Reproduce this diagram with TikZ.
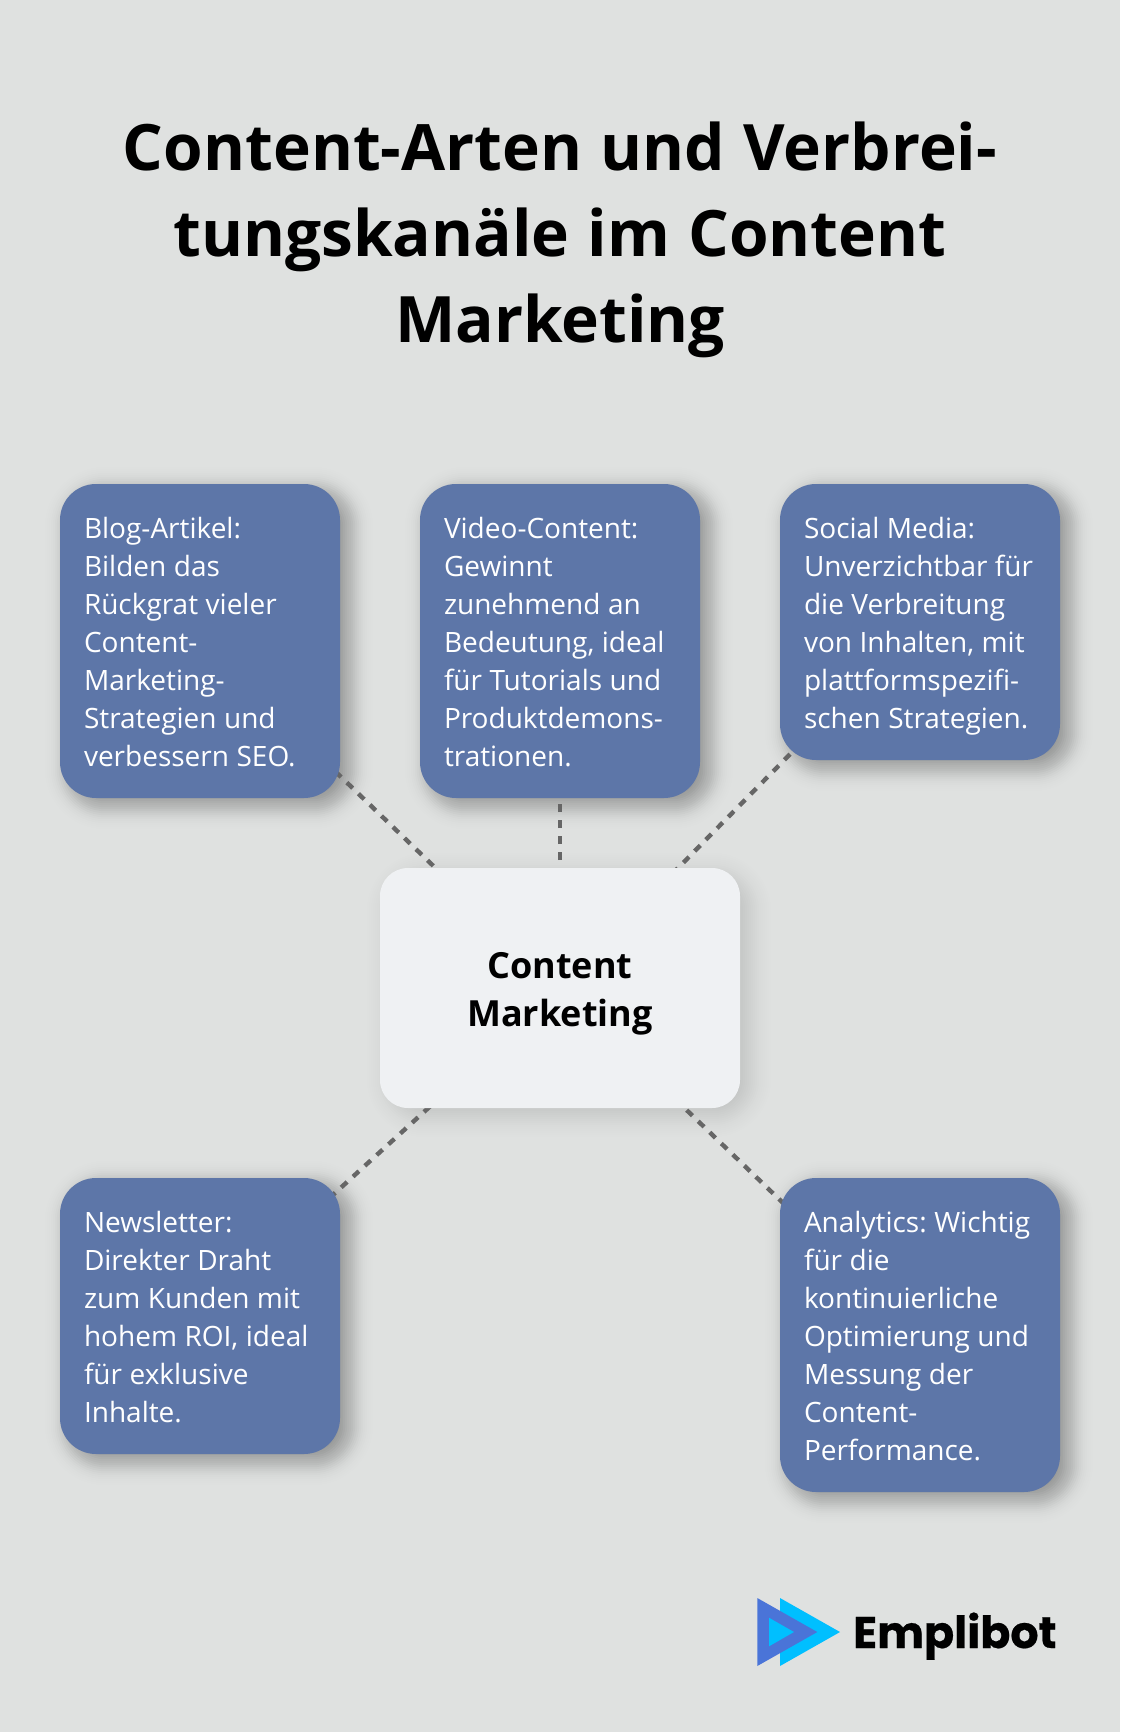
\documentclass[tikz,border=0pt]{standalone}
\usepackage{fontspec}
\setmainfont{Open Sans}
\newfontfamily\logofont{Poppins}[BoldFeatures={FakeBold=0.5}]
\frenchspacing
\definecolor{bgcol}{HTML}{DFE1E0}
\definecolor{boxcol}{HTML}{5D76A8}
\definecolor{hubcol}{HTML}{EFF1F3}
\definecolor{dashcol}{HTML}{666666}
\definecolor{logodark}{HTML}{4A74D8}
\definecolor{logolight}{HTML}{00BFFF}
\pgfdeclarelayer{shadowlayer}
\pgfdeclarelayer{linelayer}
\pgfsetlayers{shadowlayer,linelayer,main}
\newcommand{\boxstrut}{\spaceskip=.268em\rule[-7.6pt]{0pt}{38pt}}
\newcommand{\hubstrut}{\rule[-9.4pt]{0pt}{48pt}}
\tikzset{
  infobox/.style={fill=boxcol,rounded corners=36pt,text=white,inner sep=0pt,
    minimum width=280pt,text width=232pt,align=left,
    font=\fontsize{28}{38}\selectfont,
    execute at begin node=\boxstrut,execute at end node=\boxstrut},
  hubbox/.style={fill=hubcol,rounded corners=28pt,text=black,inner sep=0pt,
    minimum width=360pt,minimum height=240pt,text width=300pt,align=center,
    font=\fontsize{36}{48}\selectfont\bfseries,
    execute at begin node=\hubstrut,execute at end node=\hubstrut},
  titlenode/.style={text=black,inner sep=0pt,align=center,text width=1000pt,
    font=\fontsize{64}{86}\selectfont\bfseries,
    execute at begin node={\spaceskip=.286em\relax}},
  logotext/.style={text=black,inner sep=0pt,anchor=base west,
    font=\fontsize{44.3}{46}\selectfont\logofont\bfseries},
  link/.style={draw=dashcol,line width=4.4pt,dash pattern=on 8pt off 8pt},
}
% #1 node, #2 peak opacity of one layer, #3 spread
\newcommand{\softshadow}[3]{%
  \foreach \e in {-30,-28,...,36}{%
    \pgfmathsetmacro{\rr}{max(36+\e,14)}%
    \pgfmathsetmacro{\aa}{#2*exp(-(\e*\e)/(2*#3*#3))}%
    \fill[black,opacity=\aa,rounded corners=\rr pt]
      ([shift={({9-\e},{7-\e})}]#1.north west) rectangle
      ([shift={({9+\e},{7+\e})}]#1.south east);
  }%
}
\begin{document}
\begin{tikzpicture}[x=1pt,y=-1pt]
\useasboundingbox (0,0) rectangle (1120,1732);
\begin{pgfonlayer}{shadowlayer}
\fill[bgcol] (0,0) rectangle (1120,1732);
\end{pgfonlayer}

\node[titlenode] (title) at (560,239.6) {Content-Arten und Verbrei-\\tungskanäle im Content\\Marketing};

\node[infobox,minimum height=314pt] (blog) at (200,641) {Blog-Artikel:\\Bilden das\\Rückgrat vieler\\Content-\\Marketing-\\Strategien und\\verbessern SEO.};
\node[infobox,minimum height=314pt] (video) at (560,641) {Video-Content:\\Gewinnt\\zunehmend an\\Bedeutung, ideal\\für Tutorials und\\Produktdemons-\\trationen.};
\node[infobox,minimum height=276pt] (social) at (920,622) {Social Media:\\Unverzichtbar für\\die Verbreitung\\von Inhalten, mit\\plattformspezifi-\\schen Strategien.};
\node[hubbox] (hub) at (560,988) {Content\\Marketing};
\node[infobox,minimum height=276pt] (news) at (200,1316) {Newsletter:\\Direkter Draht\\zum Kunden mit\\hohem ROI, ideal\\für exklusive\\Inhalte.};
\node[infobox,minimum height=314pt] (analytics) at (920,1335) {Analytics: Wichtig\\für die\\kontinuierliche\\Optimierung und\\Messung der\\Content-\\Performance.};

\begin{pgfonlayer}{shadowlayer}
\softshadow{blog}{0.027}{11}\softshadow{video}{0.027}{11}\softshadow{social}{0.027}{11}\softshadow{hub}{0.0085}{14}\softshadow{news}{0.027}{11}\softshadow{analytics}{0.027}{11}
\end{pgfonlayer}
\begin{pgfonlayer}{linelayer}
\draw[link] (hub.center) -- (blog.center);
\draw[link] (hub.center) -- (video.center);
\draw[link] (hub.center) -- (social.center);
\draw[link] (hub.center) -- (news.center);
\draw[link] (hub.center) -- (analytics.center);
\end{pgfonlayer}

\fill[logolight] (780,1598) -- (840,1632) -- (780,1666) -- cycle;
\fill[logodark] (757.3,1598) -- (817.3,1632) -- (757.3,1666) -- cycle;
\fill[logolight] (769,1617.7) -- (794,1632) -- (769,1646.3) -- cycle;
\node[logotext] (logo) at (853,1648) {Emplibot};
\end{tikzpicture}
\end{document}
